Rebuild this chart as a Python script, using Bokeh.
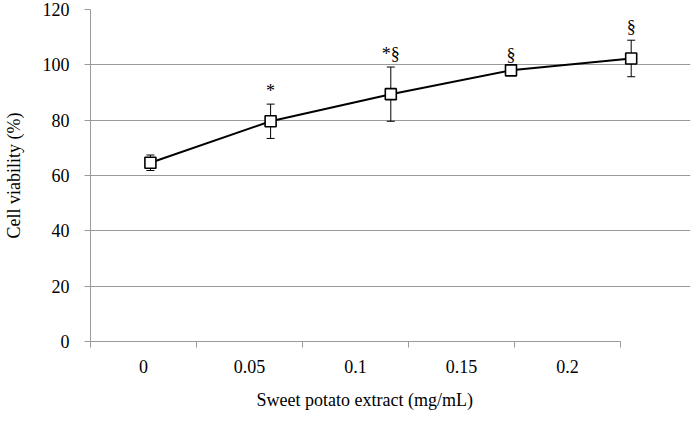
from bokeh.plotting import figure
from bokeh.models import Range1d, LinearAxis, FixedTicker, Whisker, TeeHead, ColumnDataSource, Title
from bokeh.embed import file_html
from bokeh.resources import INLINE

# ---- data ----
concentrations = [0, 0.05, 0.1, 0.15, 0.2]
tick_labels = ["0", "0.05", "0.1", "0.15", "0.2"]
viability = [64.6, 79.6, 89.4, 98.0, 102.3]
errors = [2.8, 6.2, 9.8, 1.0, 6.6]
significance = ["", "*", "*§", "§", "§"]
y_ticks = [0, 20, 40, 60, 80, 100, 120]
x_title = "Sweet potato extract (mg/mL)"

FONT = "Liberation Serif"
GRAY = "#9a9a9a"

src = ColumnDataSource(dict(
    x=concentrations,
    y=viability,
    upper=[v + e for v, e in zip(viability, errors)],
    lower=[v - e for v, e in zip(viability, errors)],
    sig=significance,
))

p = figure(width=693, height=422, output_backend="svg", toolbar_location=None,
           x_range=Range1d(-0.02492, 0.22467), y_range=Range1d(0, 120),
           x_axis_location=None,
           min_border_left=89, min_border_right=3, min_border_top=9, min_border_bottom=80)
p.outline_line_color = None
p.background_fill_color = "white"
p.border_fill_color = "white"

# category axis (labels centred between boundary ticks)
n = len(tick_labels)
p.extra_x_ranges = {"cat": Range1d(-0.5, 5.16)}
xaxis = LinearAxis(x_range_name="cat")
xaxis.ticker = FixedTicker(ticks=list(range(n)), minor_ticks=[i - 0.5 for i in range(n + 1)])
xaxis.major_label_overrides = {i: lab for i, lab in enumerate(tick_labels)}
xaxis.bounds = (-0.5, n - 0.5)
xaxis.major_tick_line_color = None
xaxis.minor_tick_in = 0
xaxis.minor_tick_out = 6
xaxis.minor_tick_line_color = GRAY
xaxis.axis_line_color = GRAY
xaxis.major_label_text_font = FONT
xaxis.major_label_text_font_size = "18px"
xaxis.major_label_text_color = "black"
xaxis.major_label_standoff = 12
p.add_layout(xaxis, "below")

# x-axis title, centred under the category axis (not under the whole frame)
p.add_layout(Title(text=x_title, align="left", offset=166,
                   text_font=FONT, text_font_size="18px", text_font_style="normal",
                   text_color="black", standoff=25), "below")

# y axis
p.yaxis.ticker = FixedTicker(ticks=y_ticks, minor_ticks=[])
p.yaxis.axis_label = "Cell viability (%)"
p.yaxis.axis_label_text_font = FONT
p.yaxis.axis_label_text_font_size = "18px"
p.yaxis.axis_label_text_font_style = "normal"
p.yaxis.axis_label_text_color = "black"
p.yaxis.axis_label_standoff = 16
p.yaxis.major_label_text_font = FONT
p.yaxis.major_label_text_font_size = "18px"
p.yaxis.major_label_text_color = "black"
p.yaxis.major_label_standoff = 15
p.yaxis.major_tick_in = 0
p.yaxis.major_tick_out = 6
p.yaxis.major_tick_line_color = GRAY
p.yaxis.axis_line_color = GRAY

p.xgrid.visible = False
p.ygrid.grid_line_color = GRAY
p.ygrid.grid_line_width = 1

# data
p.line("x", "y", source=src, line_color="black", line_width=2)
p.scatter("x", "y", source=src, marker="square", size=11, fill_color="white",
          line_color="black", line_width=1.6)
p.add_layout(Whisker(source=src, base="x", upper="upper", lower="lower",
                     line_color="black", line_width=1,
                     upper_head=TeeHead(size=8, line_color="black", line_width=1),
                     lower_head=TeeHead(size=8, line_color="black", line_width=1)))
p.text("x", "upper", text="sig", source=src, text_align="center", text_baseline="bottom",
       y_offset=-3, text_font=FONT, text_font_size="18px", text_color="black")

open("out.html", "w").write(file_html(p, INLINE))
